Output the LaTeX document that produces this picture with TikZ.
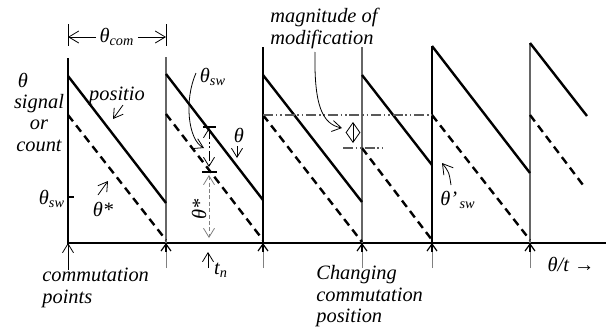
\documentclass[tikz,border=0pt]{standalone}
\usepackage{fontspec}
\setmainfont{Liberation Serif}
\usetikzlibrary{arrows.meta}
\tikzset{
  lbl/.style={font=\fontsize{10.2}{10.8}\selectfont\itshape,inner sep=0pt,align=center},
  sawline/.style={line width=1.2pt},
  dashline/.style={line width=1.2pt,dash pattern=on 4pt off 2.6pt},
  refline/.style={line width=0.6pt,gray!70!black,
    dash pattern=on 5pt off 1.4pt on 0.8pt off 1.4pt on 0.8pt off 1.4pt},
  comline/.style={line width=0.8pt},
  pin/.style={-{Straight Barb[length=4.5pt,width=5.5pt]},line width=0.4pt},
  bothpin/.style={{Straight Barb[length=4.5pt,width=5.5pt]}-{Straight Barb[length=4.5pt,width=5.5pt]},line width=0.4pt}
}
\newcommand{\sbs}[1]{\textsubscript{#1}}

\begin{document}
\begin{tikzpicture}[x=0.5pt,y=-0.5pt]
  \useasboundingbox (0,0) rectangle (606,327);
  % axes
  \draw[line width=1.3pt] (68,58) -- (68,243) -- (606,243);
  \draw[line width=0.6pt] (68,197) -- (74,197);
  % commutation lines and markers
  \foreach \x/\t/\c in {166/57/gray!80!black,263/47/black,362/47/gray!80!black,432/46/black,530/43/gray!80!black}{
    \draw[comline,\c] (\x,\t) -- (\x,243);
    \draw[line width=0.4pt,gray] (\x,268) -- (\x,250);
    \draw[-{Straight Barb[length=3.5pt,width=5pt]},line width=0.6pt] (\x,252) -- (\x,243);
  }
  \draw[pin] (68,270) -- (68,243);
  % position signal (solid) and count (dashed)
  \foreach \xa/\xb/\sa/\sb/\xc/\da/\db in {68/166/76/203/166/115/240,166/263/74/200/263/114/240,
      263/362/75/202/362/115/242,362/432/75/165/432/148/240,432/530/46/173/530/115/240,530/587/43/116/583/115/185}{
    \draw[sawline] (\xa,\sa) -- (\xb,\sb);
    \draw[dashline] (\xa,\da) -- (\xc,\db);
  }
  % modification reference lines
  \draw[refline] (263,115) -- (432,115);
  \draw[refline] (343,148) -- (383,148);
  \draw[{Straight Barb[length=5pt,width=7pt]}-{Straight Barb[length=5pt,width=7pt]},line width=0.4pt] (353,122) -- (353,143);

  % theta_com span
  \draw[line width=0.5pt] (68,24) -- (68,46) (166,24) -- (166,46);
  \node[lbl] (com) at (117,37) {θ\sbs{com}};
  \draw[-{Straight Barb[length=5pt,width=6pt]},line width=0.4pt] (com.west) ++(-3,0) coordinate (cl) -- (68,37);
  \draw[-{Straight Barb[length=5pt,width=6pt]},line width=0.4pt] (com.east) ++(3,0) coordinate (cr) -- (166,37);

  % left labels
  \node[lbl] (th) at (23,80) {θ};
  \node[lbl] (sig) at (39,123) {signal\\or\\count};
  \node[lbl] (sw) at (52,199) {θ\sbs{sw}};
  \node[lbl] (pos) at (117,96) {positio};
  \coordinate (posp) at (113,119);
  \draw[pin] (123,105) -- (posp);
  \node[lbl] (ths) at (103,209) {θ*};
  \draw[pin] (98,195) -- (108,181);
  \node[lbl,anchor=north west,align=left] (cp) at (42,268) {commutation\\points};

  % offset at t_n
  \draw[line width=0.6pt] (203,127) -- (216,127);
  \draw[line width=0.6pt] (202,172) -- (217,172);
  \draw[bothpin,refline,black,line width=0.4pt] (209,128) -- (209,167);
  \draw[bothpin,gray,dash pattern=on 2pt off 1.2pt] (209,175) -- (209,238);
  \node[lbl] (swm) at (213,77) {θ\sbs{sw}};
  \coordinate (swe) at (204,148);
  \draw[pin] (196,73) .. controls (184,100) and (188,140) .. (swe);
  \node[lbl] (thm) at (239,135) {θ};
  \draw[pin] (237,146) -- (237,158);
  \node[lbl,rotate=90] (thsm) at (199,209) {θ*};
  \draw[pin] (208,268) -- (208,252);
  \node[lbl] (tn) at (221,270) {t\sbs{n}};

  % magnitude of modification
  \node[lbl,anchor=north west,align=left] (mag) at (270,8) {magnitude of\\modification};
  \coordinate (mage) at (342,128);
  \draw[pin] (315,52) .. controls (314,105) and (322,124) .. (mage);

  % changed switching point
  \node[lbl] (swp) at (458,200) {θ'\sbs{\,sw}};
  \coordinate (swpe) at (442,163);
  \draw[-{Straight Barb[length=5pt,width=6pt]},line width=0.4pt] (451,185) .. controls (449,172) .. (swpe);
  \node[lbl,anchor=north west,align=left] (chg) at (316,265) {Changing\\commutation\\position};
  \node[lbl] (tax) at (571,264) {θ/t \char"2192};
\end{tikzpicture}
\end{document}
